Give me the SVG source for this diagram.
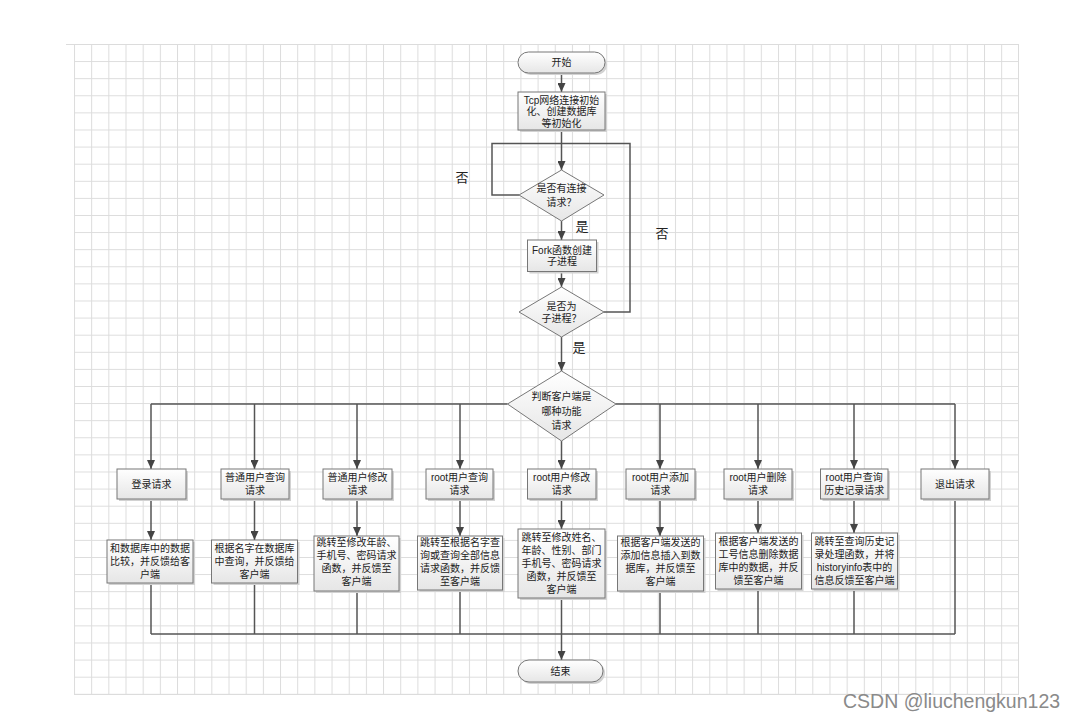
<svg xmlns="http://www.w3.org/2000/svg" width="1076" height="721" viewBox="0 0 1076 721">
<style>
.box{fill:url(#g);stroke:#777;stroke-width:1}
.sh{fill:#d2d2d2}
.t{font-family:"Liberation Sans","Noto Sans CJK SC",sans-serif;font-size:10px;fill:#222;text-anchor:middle}
.lb{font-family:"Noto Sans CJK SC",sans-serif;font-size:13px;fill:#222;text-anchor:middle}
.ln{stroke:#555;stroke-width:1.5;fill:none}
.ar{stroke:#555;stroke-width:1.5;fill:none;marker-end:url(#a)}
.wm{font-family:"Liberation Sans",sans-serif;font-size:19.5px;fill:#8a8a8a}
</style>
<defs>
<linearGradient id="g" x1="0" y1="0" x2="0" y2="1"><stop offset="0" stop-color="#ffffff"/><stop offset="1" stop-color="#e6e6e6"/></linearGradient>
<pattern id="grid" patternUnits="userSpaceOnUse" x="74" y="44" width="17.17" height="17.1"><path d="M0.5 0V17.1M0 0.5H17.17" stroke="#dcdcdc" stroke-width="1" fill="none"/></pattern>
<marker id="a" markerUnits="userSpaceOnUse" markerWidth="9" markerHeight="8" refX="9" refY="4" orient="auto"><path d="M0,0L9,4L0,8z" fill="#444"/></marker>
</defs>
<rect width="1076" height="721" fill="#fff"/>
<g id="grid-bg">
<rect x="74" y="44" width="945" height="650" fill="url(#grid)"/>
<path d="M66 44.5H1019M1018.5 44V694M74 694.5H1019" stroke="#dcdcdc" stroke-width="1" fill="none"/>
</g>
<g id="connectors">
<path class="ar" d="M561.5 73V92"/>
<path class="ar" d="M561.5 130V170"/>
<path class="ar" d="M561.5 221V240"/>
<path class="ar" d="M561.5 271.5V287"/>
<path class="ar" d="M561.5 337V371"/>
<path class="ln" d="M519 195H492V143.5H630V312H604"/>
<path class="ln" d="M151 404H507.5M616 404H955"/>
<path class="ar" d="M151 404V469"/>
<path class="ar" d="M254.5 404V469"/>
<path class="ar" d="M357 404V469"/>
<path class="ar" d="M460 404V469"/>
<path class="ar" d="M561.5 441V469"/>
<path class="ar" d="M660 404V469"/>
<path class="ar" d="M758 404V469"/>
<path class="ar" d="M854 404V469"/>
<path class="ar" d="M955 404V469"/>
<path class="ar" d="M151 499V540"/>
<path class="ar" d="M254.5 499V540"/>
<path class="ar" d="M357 499V536"/>
<path class="ar" d="M460 499V536"/>
<path class="ar" d="M561.5 499V529"/>
<path class="ar" d="M660 499V536"/>
<path class="ar" d="M758 499V533"/>
<path class="ar" d="M854 499V533"/>
<path class="ln" d="M151 583V634M254.5 583V634M357 591V634M460 590V634M660 591V634M758 589V634M854 589V634M955 499V634M151 634H955"/>
<path class="ar" d="M561.5 598V660"/>
</g>
<g id="labels">
<text class="lb" x="462" y="182">否</text>
<text class="lb" x="582" y="231">是</text>
<text class="lb" x="662" y="238">否</text>
<text class="lb" x="579" y="352">是</text>
</g>
<g id="start">
<rect class="sh" x="520" y="54" width="87" height="21" rx="10.5"/>
<rect class="box" x="518" y="52" width="87" height="21" rx="10.5"/>
<text class="t" x="561.5" y="66">开始</text>
</g>
<g id="init">
<rect class="sh" x="520" y="94" width="87" height="38"/>
<rect class="box" x="518" y="92" width="87" height="38"/>
<text class="t" x="561.5" y="103.5">Tcp网络连接初始</text>
<text class="t" x="561.5" y="115">化、创建数据库</text>
<text class="t" x="561.5" y="126.5">等初始化</text>
</g>
<g id="d-conn">
<polygon class="box" points="519,195 561.5,170 604,195 561.5,221"/>
<text class="t" x="561.5" y="191.5">是否有连接</text>
<text class="t" x="561.5" y="205.5">请求？</text>
</g>
<g id="fork">
<rect class="sh" x="529.5" y="242" width="69" height="31.5"/>
<rect class="box" x="527.5" y="240" width="69" height="31.5"/>
<text class="t" x="562" y="253.5">Fork函数创建</text>
<text class="t" x="562" y="265">子进程</text>
</g>
<g id="d-child">
<polygon class="box" points="519,312 561.5,287 604,312 561.5,337"/>
<text class="t" x="561.5" y="310">是否为</text>
<text class="t" x="561.5" y="322">子进程？</text>
</g>
<g id="d-func">
<polygon class="box" points="507.5,404 561.5,371 616,404 561.5,441"/>
<text class="t" x="561.5" y="400">判断客户端是</text>
<text class="t" x="561.5" y="415">哪种功能</text>
<text class="t" x="561.5" y="428.5">请求</text>
</g>
<g id="req1"><rect class="sh" x="119" y="471" width="69" height="30"/><rect class="box" x="117" y="469" width="69" height="30"/><text class="t" x="151.5" y="487.5">登录请求</text></g>
<g id="req2"><rect class="sh" x="223" y="471" width="68" height="30"/><rect class="box" x="221" y="469" width="68" height="30"/><text class="t" x="255" y="480.5">普通用户查询</text><text class="t" x="255" y="494">请求</text></g>
<g id="req3"><rect class="sh" x="325" y="471" width="69" height="30"/><rect class="box" x="323" y="469" width="69" height="30"/><text class="t" x="357.5" y="480.5">普通用户修改</text><text class="t" x="357.5" y="494">请求</text></g>
<g id="req4"><rect class="sh" x="428" y="471" width="67" height="30"/><rect class="box" x="426" y="469" width="67" height="30"/><text class="t" x="459.5" y="480.5">root用户查询</text><text class="t" x="459.5" y="494">请求</text></g>
<g id="req5"><rect class="sh" x="529.5" y="471" width="68.5" height="30"/><rect class="box" x="527.5" y="469" width="68.5" height="30"/><text class="t" x="561.7" y="480.5">root用户修改</text><text class="t" x="561.7" y="494">请求</text></g>
<g id="req6"><rect class="sh" x="628" y="471" width="69" height="30"/><rect class="box" x="626" y="469" width="69" height="30"/><text class="t" x="660.5" y="480.5">root用户添加</text><text class="t" x="660.5" y="494">请求</text></g>
<g id="req7"><rect class="sh" x="726" y="471" width="68" height="30"/><rect class="box" x="724" y="469" width="68" height="30"/><text class="t" x="758" y="480.5">root用户删除</text><text class="t" x="758" y="494">请求</text></g>
<g id="req8"><rect class="sh" x="822.5" y="471" width="67.5" height="30"/><rect class="box" x="820.5" y="469" width="67.5" height="30"/><text class="t" x="854.2" y="480.5">root用户查询</text><text class="t" x="854.2" y="494">历史记录请求</text></g>
<g id="req9"><rect class="sh" x="923" y="471" width="68" height="30"/><rect class="box" x="921" y="469" width="68" height="30"/><text class="t" x="955" y="487.5">退出请求</text></g>
<g id="res1"><rect class="sh" x="109" y="542" width="86" height="43"/><rect class="box" x="107" y="540" width="86" height="43"/>
<text class="t" x="150" y="552">和数据库中的数据</text><text class="t" x="150" y="565">比较，并反馈给客</text><text class="t" x="150" y="578">户端</text></g>
<g id="res2"><rect class="sh" x="213.5" y="542" width="86" height="43"/><rect class="box" x="211.5" y="540" width="86" height="43"/>
<text class="t" x="254.5" y="552">根据名字在数据库</text><text class="t" x="254.5" y="565">中查询，并反馈给</text><text class="t" x="254.5" y="578">客户端</text></g>
<g id="res3"><rect class="sh" x="316" y="538" width="85" height="55"/><rect class="box" x="314" y="536" width="85" height="55"/>
<text class="t" x="356.5" y="546">跳转至修改年龄、</text><text class="t" x="356.5" y="559">手机号、密码请求</text><text class="t" x="356.5" y="572">函数，并反馈至</text><text class="t" x="356.5" y="585">客户端</text></g>
<g id="res4"><rect class="sh" x="419.5" y="538" width="85" height="54"/><rect class="box" x="417.5" y="536" width="85" height="54"/>
<text class="t" x="460" y="546">跳转至根据名字查</text><text class="t" x="460" y="559">询或查询全部信息</text><text class="t" x="460" y="572">请求函数，并反馈</text><text class="t" x="460" y="585">至客户端</text></g>
<g id="res5"><rect class="sh" x="520" y="531" width="87" height="69"/><rect class="box" x="518" y="529" width="87" height="69"/>
<text class="t" x="561.5" y="541">跳转至修改姓名、</text><text class="t" x="561.5" y="554">年龄、性别、部门</text><text class="t" x="561.5" y="567">手机号、密码请求</text><text class="t" x="561.5" y="580">函数，并反馈至</text><text class="t" x="561.5" y="593">客户端</text></g>
<g id="res6"><rect class="sh" x="619.5" y="538" width="86" height="55"/><rect class="box" x="617.5" y="536" width="86" height="55"/>
<text class="t" x="660.5" y="546">根据客户端发送的</text><text class="t" x="660.5" y="559">添加信息插入到数</text><text class="t" x="660.5" y="572">据库，并反馈至</text><text class="t" x="660.5" y="585">客户端</text></g>
<g id="res7"><rect class="sh" x="717.5" y="535" width="86" height="56"/><rect class="box" x="715.5" y="533" width="86" height="56"/>
<text class="t" x="758.5" y="545">根据客户端发送的</text><text class="t" x="758.5" y="558">工号信息删除数据</text><text class="t" x="758.5" y="571">库中的数据，并反</text><text class="t" x="758.5" y="584">馈至客户端</text></g>
<g id="res8"><rect class="sh" x="813.5" y="535" width="86" height="56"/><rect class="box" x="811.5" y="533" width="86" height="56"/>
<text class="t" x="854.5" y="545">跳转至查询历史记</text><text class="t" x="854.5" y="558">录处理函数，并将</text><text class="t" x="854.5" y="571">historyinfo表中的</text><text class="t" x="854.5" y="584">信息反馈至客户端</text></g>
<g id="end">
<rect class="sh" x="520" y="662" width="85" height="22" rx="11"/>
<rect class="box" x="518" y="660" width="85" height="22" rx="11"/>
<text class="t" x="560.5" y="674.5">结束</text>
</g>
<text class="wm" x="843" y="708">CSDN @liuchengkun123</text>
</svg>
